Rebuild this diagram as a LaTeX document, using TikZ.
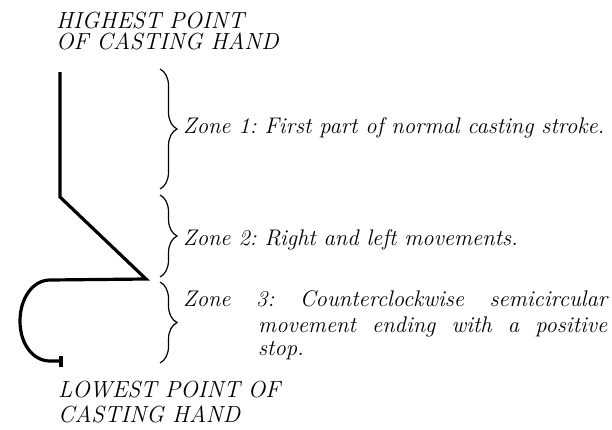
\documentclass[tikz,border=0pt]{standalone}
\usetikzlibrary{decorations.pathreplacing}
\begin{document}
\frenchspacing
\begin{tikzpicture}[x=1pt,y=-1pt,
  lbl/.style={anchor=base west, inner sep=0pt, font=\fontsize{23.3}{27}\selectfont\itshape},
  zlbl/.style={anchor=base west, inner sep=0pt, font=\fontsize{22.6}{26}\selectfont\itshape},
  stroke/.style={line width=3.2pt, line join=miter},
  zbrace/.style={decorate, decoration={brace, amplitude=17pt}, line width=1.2pt}]
\useasboundingbox (0,0) rectangle (612,429);
% labels
\node[lbl] (hi1) at (56,28) {HIGHEST POINT};
\node[lbl] (hi2) at (56,49) {OF CASTING HAND};
\node[lbl] (lo1) at (58,397) {LOWEST POINT OF};
\node[lbl] (lo2) at (58,422) {CASTING HAND};
\node[zlbl] (z1) at (183,133) {Zone 1: First part of normal casting stroke.};
\node[zlbl] (z2) at (183,245) {Zone 2: Right and left movements.};
\node[zlbl] (z3a) at (183,306) {\makebox[424pt][s]{Zone 3: Counterclockwise semicircular}};
\node[zlbl] (z3b) at (258,332) {\makebox[349pt][s]{movement ending with a positive}};
\node[zlbl] (z3c) at (258,355) {stop.};
% path of the casting hand
\coordinate (top) at (60,72);
\coordinate (bend) at (60,197);
\coordinate (tip) at (146,279);
\coordinate (hl) at (50,280);
\coordinate (left) at (20,321);
\coordinate (bot) at (50,361);
\coordinate (stop) at (61,361);
\coordinate (stopA) at (61,355.5);
\coordinate (stopB) at (61,366.5);
\draw[stroke] (top) -- (bend) -- (tip) -- (hl)
  .. controls (33,280) and (20,298) .. (left)
  .. controls (20,344) and (33,361) .. (bot) -- (stop);
\draw[line width=3.2pt] (stopA) -- (stopB);
% braces
\coordinate (b1s) at (160,69);
\coordinate (b1e) at (160,189);
\coordinate (b2s) at (160,195);
\coordinate (b2e) at (160,277);
\coordinate (b3s) at (160,282);
\coordinate (b3e) at (160,363);
\draw[zbrace] (b1s) -- (b1e);
\draw[zbrace] (b2s) -- (b2e);
\draw[zbrace] (b3s) -- (b3e);
\end{tikzpicture}
\end{document}
